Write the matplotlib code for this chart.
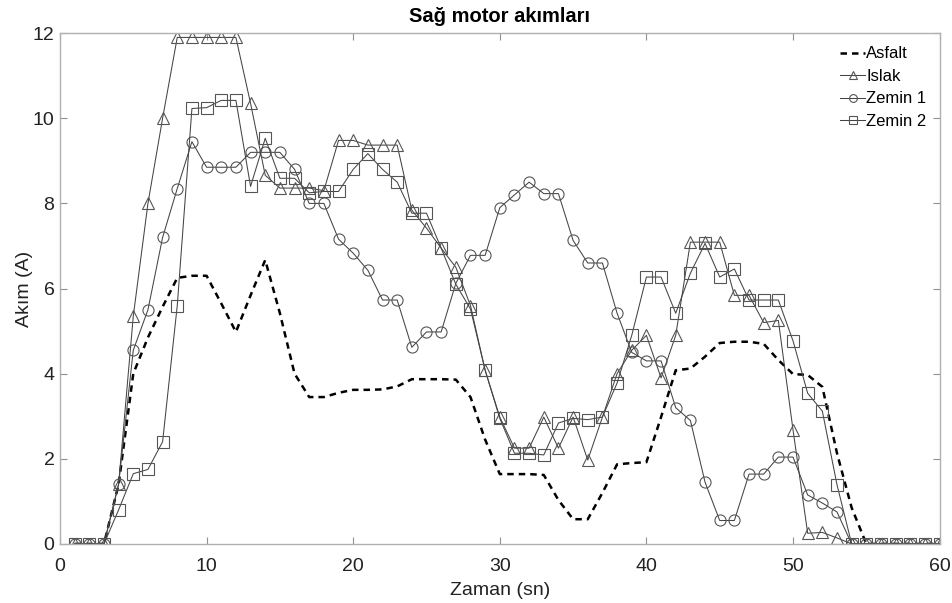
import matplotlib
matplotlib.use("Agg")
import matplotlib.pyplot as plt

plt.rcParams['font.family'] = ['Liberation Sans', 'DejaVu Sans']

zaman = list(range(1, 61))

asfalt = [0, 0, 0, 1.4, 4.0, 4.85, 5.57, 6.25, 6.3, 6.3,
          5.65, 4.98, 5.84, 6.67, 5.42, 4.0, 3.45, 3.45, 3.55, 3.62,
          3.62, 3.63, 3.7, 3.87, 3.87, 3.87, 3.86, 3.45, 2.45, 1.64,
          1.64, 1.64, 1.62, 1.03, 0.58, 0.58, 1.2, 1.87, 1.9, 1.92,
          2.98, 4.08, 4.12, 4.4, 4.72, 4.75, 4.75, 4.7, 4.32, 3.99,
          3.97, 3.69, 2.13, 0.85, 0, 0, 0, 0, 0, 0]

islak = [0, 0, 0, 1.4, 5.35, 8.0, 10.0, 11.9, 11.9, 11.9,
         11.9, 11.9, 10.35, 8.66, 8.36, 8.36, 8.36, 8.3, 9.48, 9.48,
         9.37, 9.37, 9.37, 7.84, 7.42, 6.95, 6.5, 5.6, 4.08, 2.98,
         2.25, 2.25, 2.98, 2.25, 2.98, 1.97, 2.98, 4.0, 4.55, 4.9,
         3.9, 4.9, 7.09, 7.09, 7.09, 5.84, 5.84, 5.2, 5.25, 2.68,
         0.25, 0.27, 0.14, 0, 0, 0, 0, 0, 0, 0]

zemin1 = [0, 0, 0, 1.4, 4.55, 5.5, 7.2, 8.35, 9.45, 8.85,
          8.85, 8.85, 9.2, 9.2, 9.2, 8.8, 8.0, 8.0, 7.16, 6.83,
          6.43, 5.73, 5.73, 4.62, 4.98, 4.98, 6.12, 6.78, 6.78, 7.9,
          8.2, 8.5, 8.23, 8.23, 7.13, 6.6, 6.6, 5.42, 4.5, 4.3,
          4.3, 3.2, 2.9, 1.45, 0.55, 0.55, 1.64, 1.64, 2.04, 2.04,
          1.15, 0.96, 0.75, 0, 0, 0, 0, 0, 0, 0]

zemin2 = [0, 0, 0, 0.8, 1.65, 1.75, 2.4, 5.6, 10.23, 10.25,
          10.42, 10.42, 8.4, 9.53, 8.59, 8.59, 8.25, 8.28, 8.28, 8.8,
          9.17, 8.8, 8.5, 7.77, 7.77, 6.95, 6.1, 5.52, 4.08, 2.95,
          2.13, 2.13, 2.09, 2.84, 2.95, 2.92, 2.98, 3.78, 4.9, 6.27,
          6.27, 5.42, 6.36, 7.06, 6.27, 6.46, 5.73, 5.73, 5.73, 4.77,
          3.54, 3.12, 1.39, 0, 0, 0, 0, 0, 0, 0]

x_ticks = [0, 10, 20, 30, 40, 50, 60]
y_ticks = [0, 2, 4, 6, 8, 10, 12]

fig = plt.figure(figsize=(9.52, 6.03), dpi=100)
ax = fig.add_axes([0.063, 0.098, 0.924, 0.847])

lc = '#444444'
mk = dict(markerfacecolor='none', markeredgecolor='#555555', markersize=8,
          markeredgewidth=0.8)
ax.plot(zaman, asfalt, linestyle=(0, (2.6, 2.0)), color='black', linewidth=1.8,
        label='Asfalt')
ax.plot(zaman, islak, color=lc, linewidth=0.75, marker='^', label='Islak', **mk)
ax.plot(zaman, zemin1, color=lc, linewidth=0.75, marker='o', label='Zemin 1', **mk)
ax.plot(zaman, zemin2, color=lc, linewidth=0.75, marker='s', label='Zemin 2', **mk)

ax.set_xlim(0, 60)
ax.set_ylim(0, 12)
ax.set_xticks(x_ticks)
ax.set_yticks(y_ticks)
ax.tick_params(direction='in', length=5, width=0.8, color='#909090',
               labelsize=14, top=True, right=True, labelcolor='#222222')
ax.tick_params(axis='x', pad=10)
ax.tick_params(axis='y', pad=4)
for s in ax.spines.values():
    s.set_color('#b0b0b0')
    s.set_linewidth(1.0)

ax.set_xlabel('Zaman (sn)', fontsize=14, color='#222222', labelpad=5)
ax.set_ylabel('Akım (A)', fontsize=14, color='#222222', labelpad=0)
ax.set_title('Sağ motor akımları', fontsize=14.5, fontweight='bold', pad=8)

leg = ax.legend(loc='upper right', frameon=False, fontsize=12,
                handlelength=1.5, handletextpad=0.05, labelspacing=0.45,
                borderaxespad=0.4, markerscale=0.7)

fig.savefig('out.png', dpi=100)
